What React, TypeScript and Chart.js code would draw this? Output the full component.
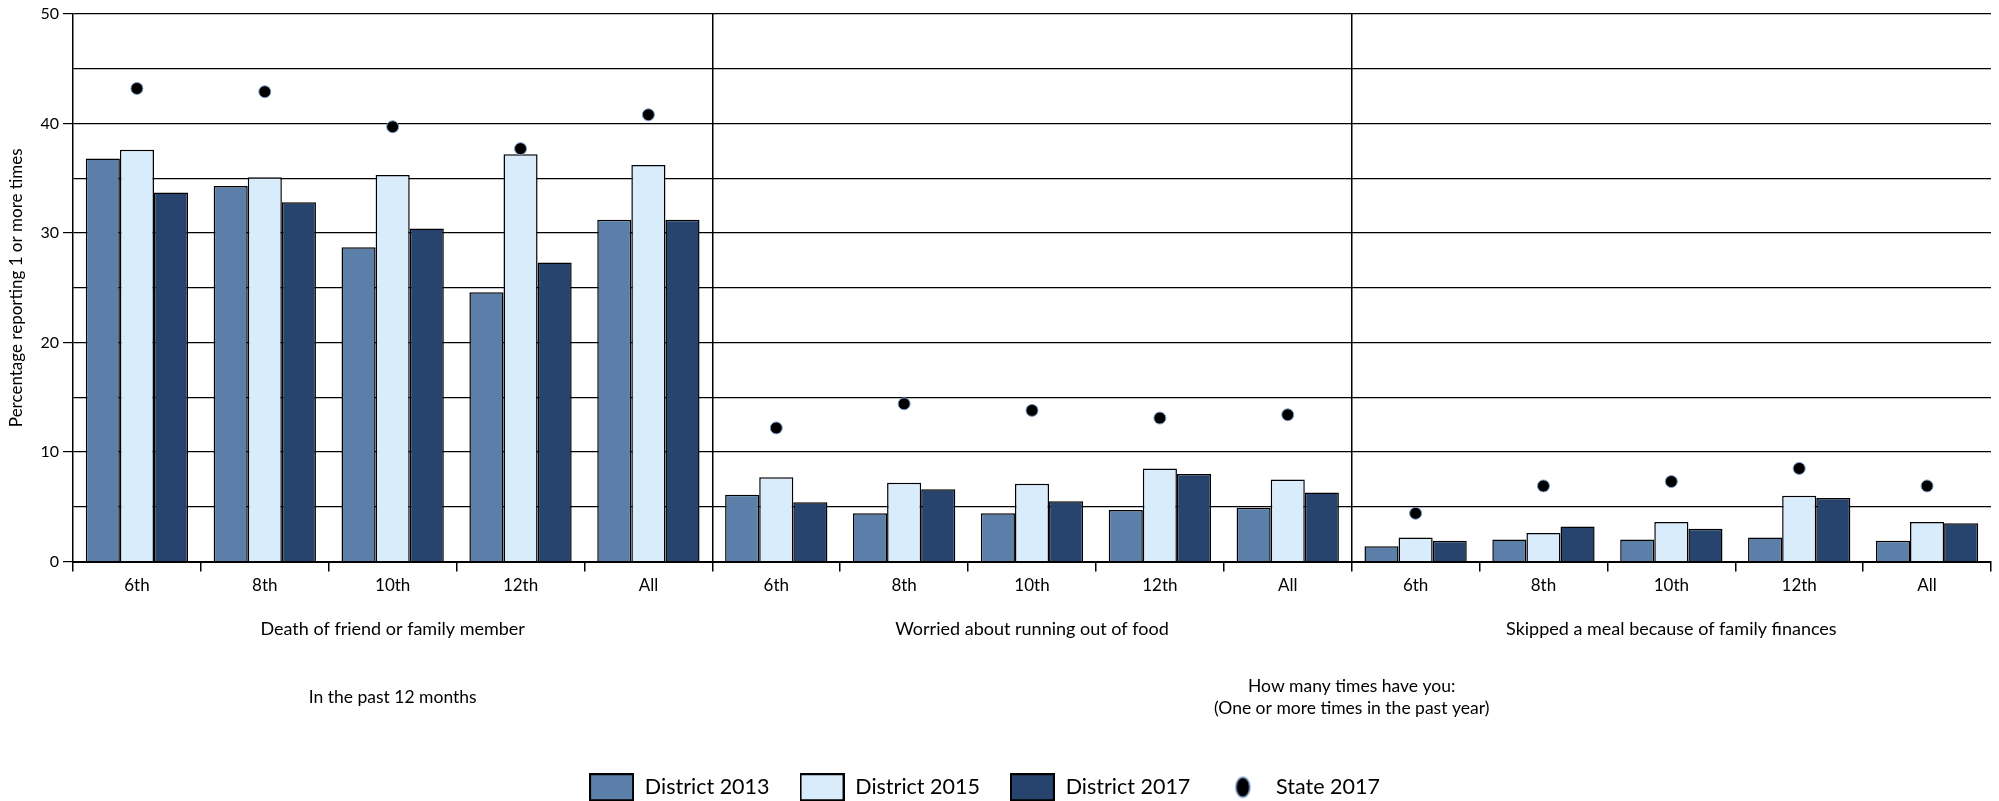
import React, { useEffect, useRef } from 'react';
import { Chart, registerables } from 'chart.js';

Chart.register(...registerables);

const grades = ['6th', '8th', '10th', '12th', 'All'];
const categories = [...grades, ...grades, ...grades];
const groupLabels = [
  'Death of friend or family member',
  'Worried about running out of food',
  'Skipped a meal because of family finances',
];
const leftNote = 'In the past 12 months';
const rightNote = ['How many times have you:', '(One or more times in the past year)'];
const yTitle = 'Percentage reporting 1 or more times';

const district2013 = [36.8, 34.3, 28.7, 24.6, 31.2, 6.1, 4.4, 4.4, 4.7, 4.9, 1.4, 2.0, 2.0, 2.2, 1.9];
const district2015 = [37.6, 35.1, 35.3, 37.2, 36.2, 7.7, 7.2, 7.1, 8.5, 7.5, 2.2, 2.6, 3.6, 6.0, 3.6];
const district2017 = [33.7, 32.8, 30.4, 27.3, 31.2, 5.4, 6.6, 5.5, 8.0, 6.3, 1.9, 3.2, 3.0, 5.8, 3.5];
const state2017 = [43.2, 42.9, 39.7, 37.7, 40.8, 12.2, 14.4, 13.8, 13.1, 13.4, 4.4, 6.9, 7.3, 8.5, 6.9];

const seriesNames = ['District 2013', 'District 2015', 'District 2017', 'State 2017'];
const colors = ['#5b7fa8', '#d9ecfc', '#26446e', '#000000'];
const dotBorder = '#7f9fca';

const FONT = "Lato, 'Liberation Sans', sans-serif";

function makeBox(fill: string) {
  const c = document.createElement('canvas');
  c.width = 45;
  c.height = 28;
  const g = c.getContext('2d')!;
  g.fillStyle = fill;
  g.fillRect(0, 0, 45, 28);
  g.strokeStyle = '#000';
  g.lineWidth = 2;
  g.strokeRect(1, 1, 43, 26);
  return c;
}

function makeDot() {
  const c = document.createElement('canvas');
  c.width = 45;
  c.height = 28;
  const g = c.getContext('2d')!;
  g.beginPath();
  g.ellipse(22.5, 14, 7, 10, 0, 0, Math.PI * 2);
  g.fillStyle = '#000';
  g.fill();
  g.strokeStyle = dotBorder;
  g.lineWidth = 1.5;
  g.stroke();
  return c;
}

const groupLabelPlugin = {
  id: 'groupLabels',
  afterLayout(chart: any) {
    if (chart.legend) {
      chart.legend.left -= 22;
    }
  },
  afterDraw(chart: any) {
    const { ctx, scales, chartArea } = chart;
    const x = scales.x;
    const b = chartArea.bottom;
    ctx.save();
    ctx.font = `18px ${FONT}`;
    ctx.fillStyle = '#000';
    ctx.textAlign = 'center';
    ctx.textBaseline = 'middle';
    groupLabels.forEach((t, i) => {
      ctx.fillText(t, x.getPixelForValue(i * 5 + 2), b + 68);
    });
    ctx.font = `17.5px ${FONT}`;
    ctx.fillText(leftNote, x.getPixelForValue(2), b + 136);
    const mid = (x.getPixelForValue(9) + x.getPixelForValue(10)) / 2;
    ctx.fillText(rightNote[0], mid, b + 125);
    ctx.fillText(rightNote[1], mid, b + 147);
    ctx.restore();
  },
};

export default function App() {
  const ref = useRef<HTMLCanvasElement | null>(null);

  useEffect(() => {
    if (!ref.current) return;
    const legendImgs = [makeBox(colors[0]), makeBox(colors[1]), makeBox(colors[2]), makeDot()];
    const barSets = [district2013, district2015, district2017].map((d, i) => ({
      type: 'bar' as const,
      label: seriesNames[i],
      data: d,
      backgroundColor: colors[i],
      borderColor: '#000',
      borderWidth: 1.5,
      categoryPercentage: 0.8,
      barPercentage: 1.0,
      order: 1,
    }));
    const chart = new Chart(ref.current, {
      type: 'bar',
      data: {
        labels: categories,
        datasets: [
          ...barSets,
          {
            type: 'line' as const,
            label: seriesNames[3],
            data: state2017,
            showLine: false,
            pointRadius: 6,
            pointBackgroundColor: '#000',
            pointBorderColor: dotBorder,
            pointBorderWidth: 1,
            backgroundColor: '#000',
            borderColor: dotBorder,
            order: 0,
          } as any,
        ],
      },
      options: {
        animation: false,
        responsive: true,
        maintainAspectRatio: false,
        layout: { padding: { top: 14, right: 8, left: 0, bottom: -7 } },
        plugins: {
          tooltip: { enabled: false },
          legend: {
            position: 'bottom',
            labels: {
              usePointStyle: true,
              pointStyleWidth: 45,
              boxHeight: 28,
              padding: 30,
              color: '#000',
              font: { family: FONT, size: 21.5 },
              sort: (a: any, b: any) => a.datasetIndex - b.datasetIndex,
              generateLabels: (ch: any) => {
                const items = (Chart as any).defaults.plugins.legend.labels.generateLabels(ch);
                return items.map((it: any) => ({ ...it, pointStyle: legendImgs[it.datasetIndex] }));
              },
            },
          },
        },
        scales: {
          x: {
            offset: true,
            grid: {
              offset: true,
              drawOnChartArea: true,
              color: (ctx: any) =>
                ctx.index === 5 || ctx.index === 10 ? '#000' : ctx.index === 15 ? '#777' : 'rgba(0,0,0,0)',
              lineWidth: 1.5,
              tickColor: '#000',
              tickLength: 10,
            },
            border: { display: true, color: '#000', width: 2 },
            ticks: {
              color: '#000',
              font: { family: FONT, size: 17 },
              padding: 4,
              maxRotation: 0,
              autoSkip: false,
            },
            afterFit: (s: any) => {
              s.height = 185;
            },
          },
          y: {
            min: 0,
            max: 50,
            grid: {
              color: '#000',
              lineWidth: 1.2,
              tickLength: 10,
              tickColor: (ctx: any) => (ctx.tick && ctx.tick.value % 10 === 0 ? '#000' : 'rgba(0,0,0,0)'),
            },
            border: { display: true, color: '#000', width: 1.5 },
            ticks: {
              stepSize: 5,
              color: '#000',
              font: { family: FONT, size: 16 },
              padding: 4,
              callback: (v: any) => (Number(v) % 10 === 0 ? String(v) : ''),
            },
            title: {
              display: true,
              text: yTitle,
              color: '#000',
              font: { family: FONT, size: 17 },
              padding: { top: 6, bottom: 0 },
            },
            afterFit: (s: any) => {
              s.width = 73;
            },
          },
        },
      },
      plugins: [groupLabelPlugin],
    });
    return () => chart.destroy();
  }, []);

  return (
    <div style={{ position: 'fixed', left: 0, top: 0, width: 1999, height: 801, background: '#fff' }}>
      <canvas ref={ref} />
    </div>
  );
}
